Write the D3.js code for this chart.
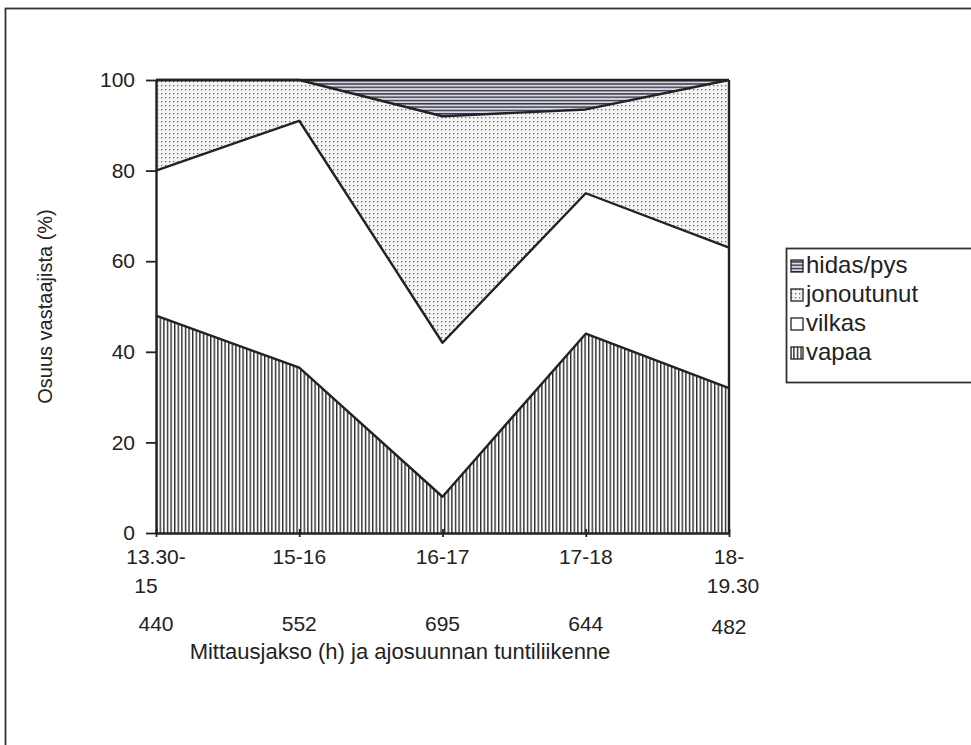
<!DOCTYPE html>
<html>
<head>
<meta charset="utf-8">
<script src="https://cdn.jsdelivr.net/npm/d3@7"></script>
<style>
  body { margin: 0; background: #fff; }
  svg text { font-family: "Liberation Sans", Arial, sans-serif; fill: #222; }
</style>
</head>
<body>
<svg id="chart" width="971" height="745"></svg>
<script>
const periods = ['13.30-|15', '15-16', '16-17', '17-18', '18-|19.30'];
const volumes = [440, 552, 695, 644, 482];
const vapaa = [48, 36.5, 8, 44, 32];
const vilkas = [32, 54.5, 34, 31, 31];
const jonoutunut = [20, 9, 50, 18.5, 37];
const hidas = [0, 0, 8, 6.5, 0];
const seriesKeys = ['vapaa', 'vilkas', 'jonoutunut', 'hidas'];
const legendLabels = ['hidas/pys', 'jonoutunut', 'vilkas', 'vapaa'];
const yTicks = [0, 20, 40, 60, 80, 100];

const margin = { top: 80, left: 156, right: 242, bottom: 212 };
const width = 971 - margin.left - margin.right;
const height = 745 - margin.top - margin.bottom;
const fs = 21;

const svg = d3.select('#chart');

// pattern fills
const defs = svg.append('defs');
const pv = defs.append('pattern').attr('id', 'p-vapaa')
  .attr('patternUnits', 'userSpaceOnUse').attr('width', 3.6).attr('height', 10);
pv.append('rect').attr('width', 3.6).attr('height', 10).attr('fill', '#fff');
pv.append('line').attr('x1', 0.7).attr('x2', 0.7).attr('y1', 0).attr('y2', 10)
  .attr('stroke', '#2a2a2a').attr('stroke-width', 1.4);

const pj = defs.append('pattern').attr('id', 'p-jono')
  .attr('patternUnits', 'userSpaceOnUse').attr('width', 4).attr('height', 4);
pj.append('rect').attr('width', 4).attr('height', 4).attr('fill', '#f4f4f4');
pj.append('rect').attr('x', 1).attr('y', 1).attr('width', 1.3).attr('height', 1.3).attr('fill', '#666');

const ph = defs.append('pattern').attr('id', 'p-hidas')
  .attr('patternUnits', 'userSpaceOnUse').attr('width', 10).attr('height', 3.3);
ph.append('rect').attr('width', 10).attr('height', 3.3).attr('fill', '#d8d8ec');
ph.append('line').attr('x1', 0).attr('x2', 10).attr('y1', 0.7).attr('y2', 0.7)
  .attr('stroke', '#2a2a2a').attr('stroke-width', 1.3);

const fills = {
  vapaa: 'url(#p-vapaa)',
  vilkas: '#fff',
  jonoutunut: 'url(#p-jono)',
  hidas: 'url(#p-hidas)',
};

// outer frame
svg.append('rect').attr('x', 5.5).attr('y', 8.5).attr('width', 980).attr('height', 760)
  .attr('fill', 'none').attr('stroke', '#333').attr('stroke-width', 1.8);

const g = svg.append('g').attr('transform', `translate(${margin.left},${margin.top})`);

const x = d3.scalePoint().domain(periods).range([0, width]);
const y = d3.scaleLinear().domain([0, 100]).range([height, 0]);

const table = periods.map((p, i) => ({
  period: p, vapaa: vapaa[i], vilkas: vilkas[i], jonoutunut: jonoutunut[i], hidas: hidas[i],
}));
const stacked = d3.stack().keys(seriesKeys)(table);

const area = d3.area()
  .x(d => x(d.data.period))
  .y0(d => y(d[0]))
  .y1(d => y(d[1]));
const topLine = d3.line()
  .x(d => x(d.data.period))
  .y(d => y(d[1]));

g.selectAll('path.area')
  .data(stacked)
  .enter().append('path')
  .attr('class', 'area')
  .attr('d', area)
  .attr('fill', d => fills[d.key]);

g.selectAll('path.edge')
  .data(stacked)
  .enter().append('path')
  .attr('class', 'edge')
  .attr('d', topLine)
  .attr('fill', 'none')
  .attr('stroke', '#222')
  .attr('stroke-width', 2.4)
  .attr('stroke-linejoin', 'round');

// right edge of plot
g.append('line')
  .attr('x1', width).attr('x2', width).attr('y1', 0).attr('y2', height)
  .attr('stroke', '#222').attr('stroke-width', 2.4);

// y axis
const yAxis = g.append('g')
  .call(d3.axisLeft(y).tickValues(yTicks).tickSize(10).tickSizeOuter(0).tickPadding(11));
yAxis.select('.domain').attr('stroke', '#222').attr('stroke-width', 2.4);
yAxis.selectAll('.tick line').attr('stroke', '#222').attr('stroke-width', 1.8);
yAxis.selectAll('.tick text').attr('font-size', fs)
  .attr('font-family', '"Liberation Sans", Arial, sans-serif').attr('fill', '#222');

// x axis
const xAxis = g.append('g').attr('transform', `translate(0,${height})`)
  .call(d3.axisBottom(x).tickSize(8).tickSizeOuter(0).tickFormat(''));
xAxis.select('.domain').attr('stroke', '#222').attr('stroke-width', 2.4);
xAxis.selectAll('.tick line').attr('stroke', '#222').attr('stroke-width', 1.8)
  .attr('transform', 'translate(0,-4)');

// x tick labels (two lines) and volumes
periods.forEach((p, i) => {
  const lines = p.split('|');
  const t = g.append('text')
    .attr('x', x(p)).attr('y', height + 31)
    .attr('text-anchor', 'middle').attr('font-size', fs);
  lines.forEach((s, j) => {
    t.append('tspan').attr('x', x(p) + (j === 1 && i === 0 ? -10 : (j === 1 ? 4 : 0)))
      .attr('dy', j === 0 ? 0 : 29).text(s);
  });
  g.append('text')
    .attr('x', x(p)).attr('y', height + 98 + (i === 4 ? 3 : 0))
    .attr('text-anchor', 'middle').attr('font-size', fs)
    .text(volumes[i]);
});

g.append('text')
  .attr('x', 244).attr('y', height + 126)
  .attr('text-anchor', 'middle').attr('font-size', fs + 1)
  .text('Mittausjakso (h) ja ajosuunnan tuntiliikenne');

g.append('text')
  .attr('transform', `translate(-104,${height / 2}) rotate(-90)`)
  .attr('text-anchor', 'middle').attr('font-size', fs - 1)
  .text('Osuus vastaajista (%)');

// legend
const legend = svg.append('g').attr('transform', 'translate(786,248)');
legend.append('rect').attr('x', 0.5).attr('y', 0.5).attr('width', 200).attr('height', 134)
  .attr('fill', '#fff').attr('stroke', '#333').attr('stroke-width', 1.8);
const legendFill = {
  'hidas/pys': fills.hidas, jonoutunut: fills.jonoutunut, vilkas: fills.vilkas, vapaa: fills.vapaa,
};
legendLabels.forEach((lab, i) => {
  const ly = 8 + i * 29;
  legend.append('rect').attr('x', 5).attr('y', ly + 4).attr('width', 12).attr('height', 12)
    .attr('fill', legendFill[lab]).attr('stroke', '#222').attr('stroke-width', 1.3);
  legend.append('text').attr('x', 20).attr('y', ly + 17)
    .attr('font-size', fs + 3).text(lab);
});
</script>
</body>
</html>
